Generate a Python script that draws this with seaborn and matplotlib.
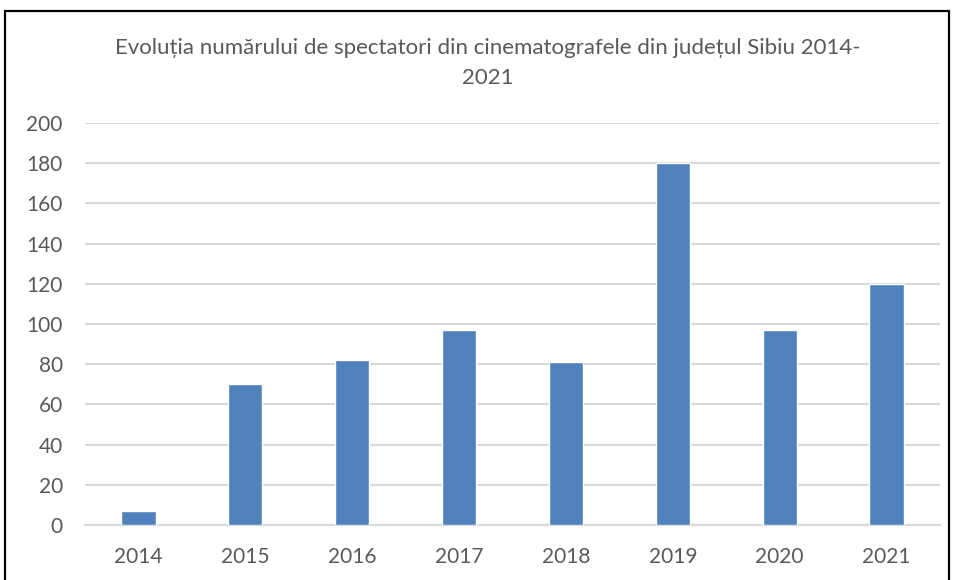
import matplotlib
matplotlib.use("Agg")
import matplotlib.pyplot as plt
from matplotlib.patches import Rectangle
import seaborn as sns
import pandas as pd

years = ["2014", "2015", "2016", "2017", "2018", "2019", "2020", "2021"]
spectators = [7, 70, 82, 97, 81, 180, 97, 120]
y_ticks = [0, 20, 40, 60, 80, 100, 120, 140, 160, 180, 200]
title = "Evoluția numărului de spectatori din cinematografele din județul Sibiu 2014-\n2021"

sns.set_theme(style="white")
plt.rcParams["font.family"] = ["Lato", "DejaVu Sans"]

text_color = "#595959"
grid_color = "#d9d9d9"
bar_color = "#4F81BD"

df = pd.DataFrame({"An": years, "Spectatori": spectators})

fig = plt.figure(figsize=(9.55, 5.8), dpi=100)
ax = fig.add_axes([85 / 955, 1 - 525 / 580, (940 - 85) / 955, (525 - 123) / 580])

sns.barplot(data=df, x="An", y="Spectatori", color=bar_color, width=0.32,
            saturation=1, ax=ax, zorder=3)

ax.set_ylim(0, 200)
ax.set_yticks(y_ticks)
ax.set_xlim(-0.5, len(years) - 0.5)
ax.yaxis.grid(True, color=grid_color, linewidth=1.5, zorder=0)
ax.set_axisbelow(True)
for side in ["top", "right", "left"]:
    ax.spines[side].set_visible(False)
ax.spines["bottom"].set_color(grid_color)
ax.spines["bottom"].set_linewidth(1.5)
ax.tick_params(axis="both", length=0, labelsize=15, labelcolor=text_color)
ax.tick_params(axis="x", pad=16)
ax.tick_params(axis="y", pad=16)
ax.set_xlabel("")
ax.set_ylabel("")

fig.text(488 / 955, 1 - 63 / 580, title, ha="center", va="center",
         fontsize=16, color=text_color, linespacing=1.62)

# chart frame
fig.patches.append(Rectangle((5 / 955, -0.05), (949 - 5) / 955, 1 - 11 / 580 + 0.05,
                             transform=fig.transFigure, fill=False,
                             edgecolor="black", linewidth=1.6))

fig.savefig("out.png", dpi=100)
